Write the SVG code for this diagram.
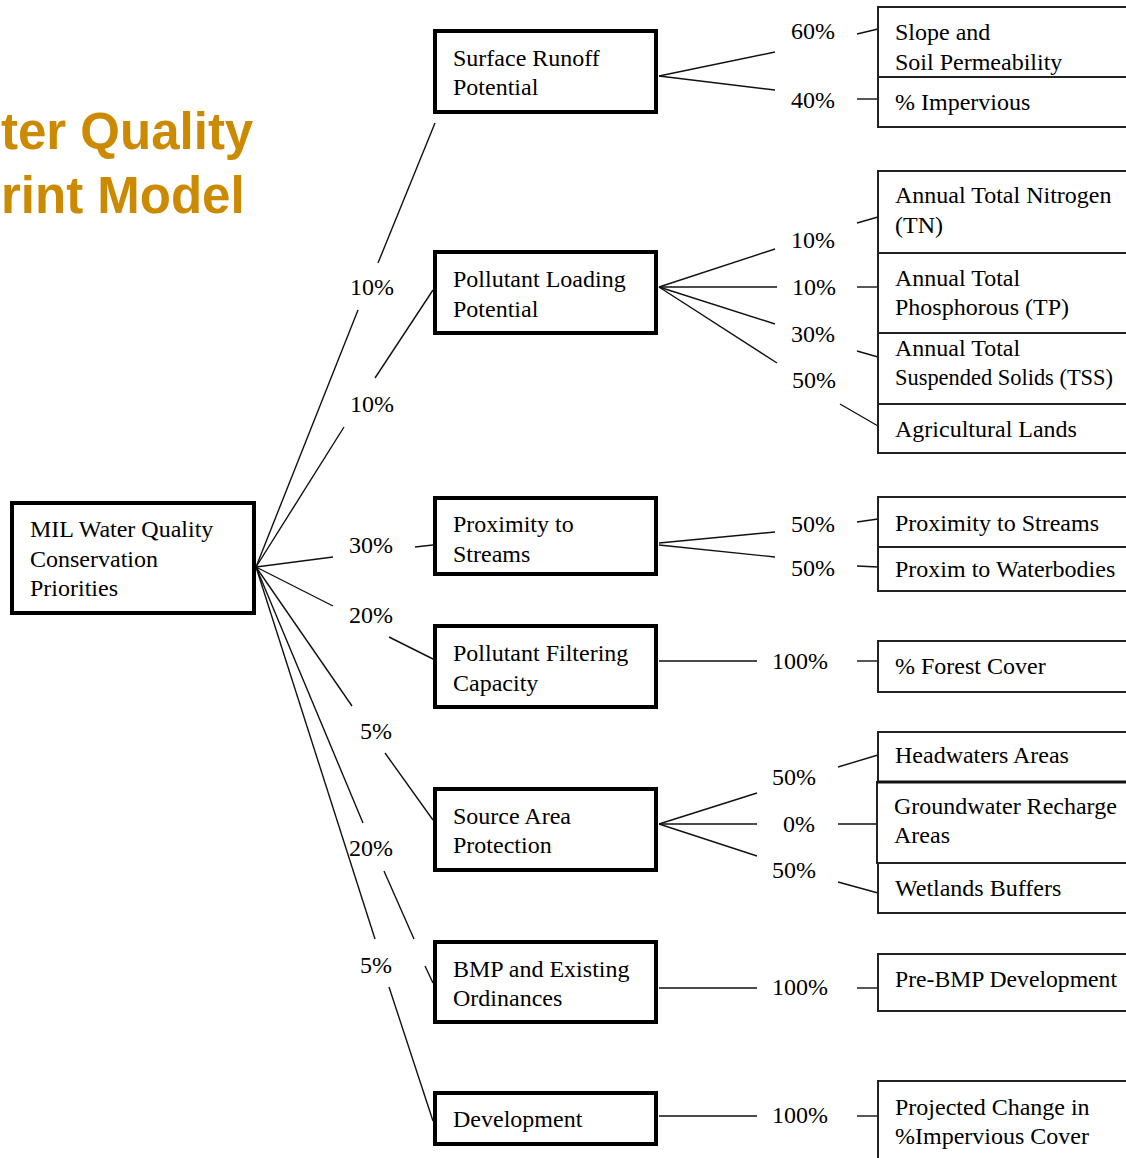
<svg xmlns="http://www.w3.org/2000/svg" width="1126" height="1158" viewBox="0 0 1126 1158">
<style>
.bg{fill:#ffffff}
.title{font-family:"Liberation Sans",Arial,sans-serif;font-weight:bold;font-size:51px;fill:#CC8A00}
.node{fill:#ffffff;stroke:#000;stroke-width:4}
.leaf{fill:#ffffff;stroke:#222;stroke-width:2}
.t{font-family:"Liberation Serif","Times New Roman",serif;font-size:24px;fill:#000}
.p{font-family:"Liberation Serif","Times New Roman",serif;font-size:24px;fill:#000}
.c line{stroke:#111;stroke-width:1.4}
</style>
<rect class="bg" x="0" y="0" width="1126" height="1158"/>
<g id="title">
<text class="title" x="1" y="149">ter Quality</text>
<text class="title" x="1" y="213">rint Model</text>
</g>
<g id="connectors" class="c">
<line x1="256" y1="567" x2="358" y2="310"/>
<line x1="378" y1="263" x2="435" y2="123"/>
<line x1="256" y1="567" x2="344" y2="427"/>
<line x1="375" y1="378" x2="433" y2="290"/>
<line x1="256" y1="567" x2="333" y2="557"/>
<line x1="415" y1="547" x2="433" y2="545"/>
<line x1="256" y1="567" x2="333" y2="606"/>
<line x1="389" y1="637" x2="433" y2="659"/>
<line x1="256" y1="567" x2="352" y2="706"/>
<line x1="385" y1="753" x2="433" y2="820"/>
<line x1="256" y1="567" x2="363" y2="823"/>
<line x1="384" y1="871" x2="414" y2="939"/>
<line x1="425" y1="966" x2="433" y2="983"/>
<line x1="256" y1="567" x2="375" y2="939"/>
<line x1="389" y1="987" x2="433" y2="1121"/>
<line x1="659" y1="76" x2="775" y2="52"/>
<line x1="659" y1="76" x2="775" y2="90"/>
<line x1="857" y1="34" x2="878" y2="29"/>
<line x1="857" y1="99" x2="878" y2="99"/>
<line x1="659" y1="287" x2="775" y2="249"/>
<line x1="659" y1="287" x2="777" y2="287"/>
<line x1="659" y1="287" x2="775" y2="324"/>
<line x1="659" y1="287" x2="777" y2="363"/>
<line x1="857" y1="223" x2="878" y2="217"/>
<line x1="857" y1="287" x2="878" y2="287"/>
<line x1="857" y1="351" x2="878" y2="357"/>
<line x1="840" y1="404" x2="878" y2="426"/>
<line x1="659" y1="543" x2="775" y2="532"/>
<line x1="659" y1="545" x2="775" y2="557"/>
<line x1="857" y1="522" x2="878" y2="519"/>
<line x1="857" y1="566" x2="878" y2="567"/>
<line x1="659" y1="661" x2="757" y2="661"/>
<line x1="857" y1="661" x2="878" y2="661"/>
<line x1="659" y1="824" x2="757" y2="793"/>
<line x1="659" y1="824" x2="757" y2="824"/>
<line x1="659" y1="824" x2="757" y2="856"/>
<line x1="838" y1="767" x2="878" y2="755"/>
<line x1="838" y1="824" x2="878" y2="824"/>
<line x1="838" y1="882" x2="878" y2="893"/>
<line x1="659" y1="988" x2="757" y2="988"/>
<line x1="857" y1="988" x2="878" y2="988"/>
<line x1="659" y1="1116" x2="757" y2="1116"/>
<line x1="857" y1="1116" x2="878" y2="1116"/>
</g>
<g id="weights">
<text class="p" x="350" y="295">10%</text>
<text class="p" x="350" y="412">10%</text>
<text class="p" x="349" y="553">30%</text>
<text class="p" x="349" y="623">20%</text>
<text class="p" x="360" y="739">5%</text>
<text class="p" x="349" y="856">20%</text>
<text class="p" x="360" y="973">5%</text>
<text class="p" x="791" y="39">60%</text>
<text class="p" x="791" y="108">40%</text>
<text class="p" x="791" y="248">10%</text>
<text class="p" x="792" y="295">10%</text>
<text class="p" x="791" y="342">30%</text>
<text class="p" x="792" y="388">50%</text>
<text class="p" x="791" y="532">50%</text>
<text class="p" x="791" y="576">50%</text>
<text class="p" x="772" y="669">100%</text>
<text class="p" x="772" y="785">50%</text>
<text class="p" x="783" y="832">0%</text>
<text class="p" x="772" y="878">50%</text>
<text class="p" x="772" y="995">100%</text>
<text class="p" x="772" y="1123">100%</text>
</g>
<g id="root">
<rect class="node" x="12" y="503" width="242" height="110"/>
<text class="t" x="30" y="537">MIL Water Quality</text>
<text class="t" x="30" y="567">Conservation</text>
<text class="t" x="30" y="596">Priorities</text>
</g>
<g id="surface-runoff">
<rect class="node" x="435" y="31" width="221" height="81"/>
<text class="t" x="453" y="66">Surface Runoff</text>
<text class="t" x="453" y="95">Potential</text>
</g>
<g id="pollutant-loading">
<rect class="node" x="435" y="252" width="221" height="81"/>
<text class="t" x="453" y="287">Pollutant Loading</text>
<text class="t" x="453" y="317">Potential</text>
</g>
<g id="proximity">
<rect class="node" x="435" y="498" width="221" height="76"/>
<text class="t" x="453" y="532">Proximity to</text>
<text class="t" x="453" y="562">Streams</text>
</g>
<g id="filtering">
<rect class="node" x="435" y="626" width="221" height="81"/>
<text class="t" x="453" y="661">Pollutant Filtering</text>
<text class="t" x="453" y="691">Capacity</text>
</g>
<g id="source-area">
<rect class="node" x="435" y="789" width="221" height="81"/>
<text class="t" x="453" y="824">Source Area</text>
<text class="t" x="453" y="853">Protection</text>
</g>
<g id="bmp">
<rect class="node" x="435" y="942" width="221" height="80"/>
<text class="t" x="453" y="977">BMP and Existing</text>
<text class="t" x="453" y="1006">Ordinances</text>
</g>
<g id="development">
<rect class="node" x="435" y="1093" width="221" height="51"/>
<text class="t" x="453" y="1127">Development</text>
</g>
<g id="leaf-runoff">
<rect class="leaf" x="878" y="7" width="260" height="70"/>
<rect class="leaf" x="878" y="77" width="260" height="50"/>
<text class="t" x="895" y="40">Slope and</text>
<text class="t" x="895" y="70">Soil Permeability</text>
<text class="t" x="895" y="110">% Impervious</text>
</g>
<g id="leaf-loading">
<rect class="leaf" x="878" y="171" width="260" height="82"/>
<rect class="leaf" x="878" y="253" width="260" height="80"/>
<rect class="leaf" x="878" y="333" width="260" height="71"/>
<rect class="leaf" x="878" y="404" width="260" height="49"/>
<text class="t" x="895" y="203">Annual Total Nitrogen</text>
<text class="t" x="895" y="233">(TN)</text>
<text class="t" x="895" y="286">Annual Total</text>
<text class="t" x="895" y="315">Phosphorous (TP)</text>
<text class="t" x="895" y="356">Annual Total</text>
<text class="t" x="895" y="385" font-size="23" textLength="218" lengthAdjust="spacingAndGlyphs">Suspended Solids (TSS)</text>
<text class="t" x="895" y="437">Agricultural Lands</text>
</g>
<g id="leaf-proximity">
<rect class="leaf" x="878" y="497" width="260" height="50"/>
<rect class="leaf" x="878" y="547" width="260" height="44"/>
<text class="t" x="895" y="531">Proximity to Streams</text>
<text class="t" x="895" y="577">Proxim to Waterbodies</text>
</g>
<g id="leaf-filtering">
<rect class="leaf" x="878" y="641" width="260" height="51"/>
<text class="t" x="895" y="674">% Forest Cover</text>
</g>
<g id="leaf-source">
<rect class="leaf" x="878" y="732" width="260" height="50"/>
<rect class="leaf" x="877" y="782" width="260" height="81"/>
<line x1="877" y1="782" x2="1126" y2="782" stroke="#111" stroke-width="3"/>
<rect class="leaf" x="878" y="863" width="260" height="50"/>
<text class="t" x="895" y="763">Headwaters Areas</text>
<text class="t" x="894" y="814">Groundwater Recharge</text>
<text class="t" x="894" y="843">Areas</text>
<text class="t" x="895" y="896">Wetlands Buffers</text>
</g>
<g id="leaf-bmp">
<rect class="leaf" x="878" y="954" width="260" height="57"/>
<text class="t" x="895" y="987" textLength="222" lengthAdjust="spacingAndGlyphs">Pre-BMP Development</text>
</g>
<g id="leaf-development">
<rect class="leaf" x="878" y="1081" width="260" height="90"/>
<text class="t" x="895" y="1115">Projected Change in</text>
<text class="t" x="895" y="1144">%Impervious Cover</text>
</g>
</svg>
